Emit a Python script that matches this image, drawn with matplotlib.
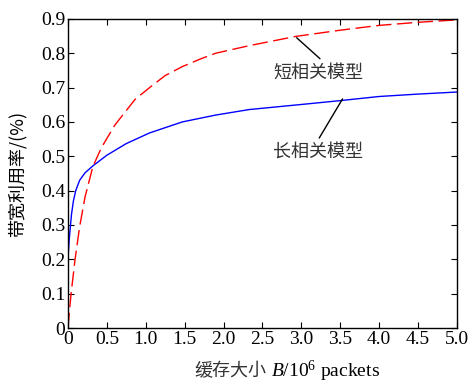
import matplotlib
matplotlib.use('Agg')
import matplotlib.pyplot as plt

plt.rcParams['font.family'] = ['Liberation Serif', 'Noto Sans CJK SC', 'DejaVu Sans']
plt.rcParams['mathtext.fontset'] = 'custom'
plt.rcParams['mathtext.rm'] = 'Liberation Serif'
plt.rcParams['mathtext.it'] = 'Liberation Serif:italic'

# values
short_x = [0, 0.017, 0.04, 0.09, 0.15, 0.22, 0.32, 0.43, 0.6, 0.86, 1.05, 1.25, 1.47, 1.7, 1.9, 2.33, 2.93, 3.5, 4.0, 4.5, 5.0]
short_y = [0, 0.044, 0.10, 0.198, 0.295, 0.382, 0.47, 0.525, 0.59, 0.665, 0.70, 0.735, 0.761, 0.783, 0.80, 0.822, 0.849, 0.867, 0.881, 0.890, 0.897]

long_x = [0, 0.005, 0.015, 0.025, 0.045, 0.07, 0.1, 0.15, 0.22, 0.32, 0.5, 0.75, 1.05, 1.47, 1.9, 2.33, 3.1, 3.5, 4.0, 4.5, 5.0]
long_y = [0.19, 0.22, 0.255, 0.28, 0.33, 0.37, 0.40, 0.43, 0.452, 0.472, 0.503, 0.537, 0.568, 0.60, 0.62, 0.636, 0.653, 0.662, 0.674, 0.681, 0.687]

x_ticks = [0, 0.5, 1.0, 1.5, 2.0, 2.5, 3.0, 3.5, 4.0, 4.5, 5.0]
x_labels = ['0', '0.5', '1.0', '1.5', '2.0', '2.5', '3.0', '3.5', '4.0', '4.5', '5.0']
y_ticks = [0, 0.1, 0.2, 0.3, 0.4, 0.5, 0.6, 0.7, 0.8, 0.9]
y_labels = ['0', '0.1', '0.2', '0.3', '0.4', '0.5', '0.6', '0.7', '0.8', '0.9']

fig = plt.figure(figsize=(4.72, 3.85), dpi=100)
ax = fig.add_axes([0.144, 0.148, 0.824, 0.803])

ax.plot(long_x, long_y, color='blue', linewidth=1.0)
ax.plot(short_x, short_y, color='red', linewidth=1.0, dashes=(11, 4))

ax.set_xlim(0, 5.0)
ax.set_ylim(0, 0.9)
ax.set_xticks(x_ticks)
ax.set_xticklabels(x_labels)
ax.set_yticks(y_ticks)
ax.set_yticklabels(y_labels)
ax.tick_params(direction='in', top=True, right=True, length=4, labelsize=14, pad=2)

for s in ax.spines.values():
    s.set_linewidth(1.0)

cjk = ['Noto Sans CJK SC', 'DejaVu Sans']

# leader lines and labels
ax.annotate('', xy=(2.94, 0.845), xytext=(3.24, 0.784),
            arrowprops=dict(arrowstyle='-', color='black', linewidth=1.0,
                            shrinkA=0, shrinkB=0))
ax.text(3.22, 0.743, '短相关模型', fontsize=13, family=cjk, color='#333333',
        ha='center', va='center')
ax.annotate('', xy=(3.53, 0.667), xytext=(3.23, 0.553),
            arrowprops=dict(arrowstyle='-', color='black', linewidth=1.0,
                            shrinkA=0, shrinkB=0))
ax.text(3.22, 0.513, '长相关模型', fontsize=13, family=cjk, color='#333333',
        ha='center', va='center')

ax.set_ylabel('带宽利用率/(%)', fontsize=13, family=cjk, labelpad=10)

fig.text(266 / 472, 1 - 371 / 385, '缓存大小', fontsize=13, family=cjk,
         color='#333333', ha='right', va='center')
fig.text(271 / 472, 1 - 371 / 385, '$B$/10$^6$ packets', fontsize=14,
         ha='left', va='center')

fig.savefig('out.png', dpi=100)
